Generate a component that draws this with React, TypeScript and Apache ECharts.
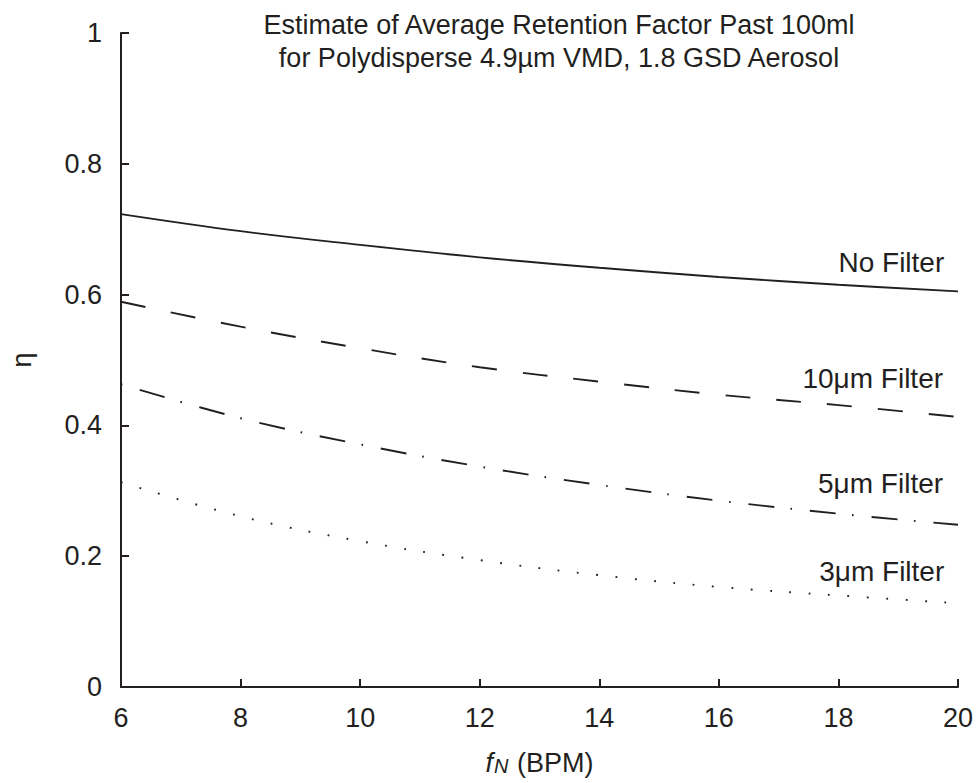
import { useEffect, useRef } from 'react';
import * as echarts from 'echarts';

// Breathing frequency f_N (BPM)
const fN = [6, 8, 10, 12, 14, 16, 18, 20];
// Retention factor η for each filter case
const noFilter = [0.723, 0.697, 0.676, 0.657, 0.641, 0.627, 0.615, 0.605];
const filter10 = [0.589, 0.551, 0.518, 0.489, 0.467, 0.447, 0.431, 0.413];
const filter5 = [0.463, 0.411, 0.371, 0.337, 0.309, 0.285, 0.265, 0.248];
const filter3 = [0.313, 0.261, 0.223, 0.194, 0.171, 0.153, 0.14, 0.128];

const seriesNames = ['No Filter', '10μm Filter', '5μm Filter', '3μm Filter'];
const labelAt = [
  [19.77, 0.649],
  [19.75, 0.472],
  [19.75, 0.311],
  [19.77, 0.177],
];
const titleLines = [
  'Estimate of Average Retention Factor Past 100ml',
  'for Polydisperse 4.9µm VMD, 1.8 GSD Aerosol',
];

const INK = '#231f20';
const FONT = '"Liberation Sans", Arial, Helvetica, sans-serif';

export default function App() {
  const ref = useRef<HTMLDivElement>(null);
  useEffect(() => {
    if (!ref.current) return;
    const chart = echarts.init(ref.current, null, { renderer: 'svg' });
    const all = [noFilter, filter10, filter5, filter3];
    const dashes: any[] = ['solid', [25, 26], [1.6, 18, 26, 16.4], [1.8, 17.6]];
    chart.setOption({
      animation: false,
      backgroundColor: '#ffffff',
      title: {
        text: titleLines.join('\n'),
        left: 554,
        top: 3,
        textAlign: 'center',
        textStyle: {
          color: INK,
          fontSize: 27,
          fontWeight: 'normal',
          fontFamily: FONT,
          lineHeight: 33,
        },
      },
      grid: { left: 118, right: 19, top: 33, bottom: 96, containLabel: false },
      xAxis: {
        type: 'value',
        min: 6,
        max: 20,
        interval: 2,
        axisLine: { show: true, lineStyle: { color: INK, width: 2 } },
        axisTick: { show: true, inside: true, length: 8, lineStyle: { color: INK, width: 2 } },
        axisLabel: { color: INK, fontSize: 27, margin: 17, fontFamily: FONT },
        splitLine: { show: false },
        name: '{i|f}{s|N} (BPM)',
        nameLocation: 'middle',
        nameGap: 62,
        nameTextStyle: {
          color: INK,
          fontSize: 27,
          fontFamily: FONT,
          rich: {
            i: { fontStyle: 'italic', fontSize: 27, color: INK, fontFamily: FONT },
            s: {
              fontStyle: 'italic',
              fontSize: 20,
              color: INK,
              fontFamily: FONT,
              verticalAlign: 'bottom',
              padding: [0, 1, 0, 1],
            },
          },
        },
      },
      yAxis: {
        type: 'value',
        min: 0,
        max: 1,
        interval: 0.2,
        axisLine: { show: true, lineStyle: { color: INK, width: 2 } },
        axisTick: { show: true, inside: true, length: 8, lineStyle: { color: INK, width: 2 } },
        axisLabel: { color: INK, fontSize: 27, margin: 19, fontFamily: FONT },
        splitLine: { show: false },
        name: 'η',
        nameLocation: 'middle',
        nameRotate: 90,
        nameGap: 86,
        nameTextStyle: { color: INK, fontSize: 27, fontFamily: FONT },
      },
      series: all.map((vals, i) => ({
        type: 'line',
        name: seriesNames[i],
        data: fN.map((x, j) => [x, vals[j]]),
        smooth: 0.4,
        showSymbol: false,
        symbol: 'none',
        silent: true,
        lineStyle: { color: INK, width: 1.9, type: dashes[i], cap: 'butt' },
        markPoint: {
          silent: true,
          symbol: 'circle',
          symbolSize: 0,
          itemStyle: { color: 'transparent' },
          label: {
            show: true,
            position: 'inside',
            align: 'right',
            verticalAlign: 'middle',
            formatter: seriesNames[i],
            color: INK,
            fontSize: 28,
            fontFamily: FONT,
          },
          data: [{ coord: labelAt[i] }],
        },
      })),
    });
    return () => chart.dispose();
  }, []);
  return (
    <div
      ref={ref}
      style={{ position: 'fixed', left: 0, top: 0, width: 977, height: 783, background: '#fff' }}
    />
  );
}
